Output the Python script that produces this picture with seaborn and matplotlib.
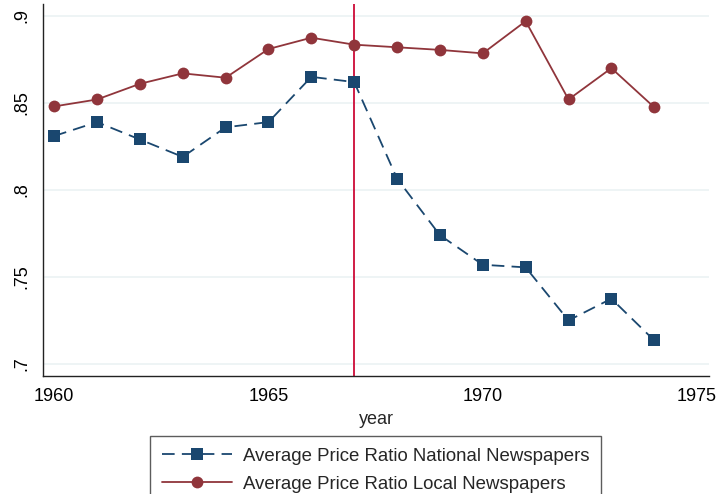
import numpy as np
import pandas as pd
import matplotlib
matplotlib.use("Agg")
import matplotlib.pyplot as plt
import seaborn as sns
from matplotlib.ticker import FuncFormatter

# chart data
years = list(range(1960, 1975))
national = [0.831, 0.839, 0.829, 0.819, 0.836, 0.839, 0.865, 0.862,
            0.8065, 0.774, 0.757, 0.7555, 0.725, 0.7375, 0.7135]
local = [0.848, 0.852, 0.861, 0.867, 0.8645, 0.881, 0.8875, 0.8835,
         0.882, 0.8805, 0.8785, 0.897, 0.852, 0.870, 0.8475]
labels = ["Average Price Ratio National Newspapers",
          "Average Price Ratio Local Newspapers"]
event_year = 1967

NAVY = "#1a476f"
MAROON = "#90353b"
CRIMSON = "#d01c45"
GRID = "#eaf1f3"

sns.set_style("white")
plt.rcParams["font.family"] = ["Liberation Sans", "DejaVu Sans"]

fig = plt.figure(figsize=(7.17, 4.94), dpi=100)
ax = fig.add_axes([0.060, 0.239, 0.929, 0.753])

df = pd.DataFrame({"year": years, "national": national, "local": local})

sns.lineplot(data=df, x="year", y="national", ax=ax, color=NAVY, lw=1.3,
             marker="s", markersize=8, markeredgewidth=0,
             linestyle=(0, (7, 4)), label=labels[0])
sns.lineplot(data=df, x="year", y="local", ax=ax, color=MAROON, lw=1.3,
             marker="o", markersize=8.5, markeredgewidth=0,
             label=labels[1])

ax.axvline(event_year, color=CRIMSON, lw=1.4, zorder=1)

ax.set_xlim(1959.74, 1975.28)
ax.set_ylim(0.6931, 0.9069)
ax.set_xticks([1960, 1965, 1970, 1975])
ax.set_yticks([0.7, 0.75, 0.8, 0.85, 0.9])
ax.yaxis.set_major_formatter(FuncFormatter(lambda v, p: f"{v:g}".lstrip("0")))
ax.yaxis.grid(True, color=GRID, lw=1.1, zorder=0)
ax.set_axisbelow(True)

for s in ["top", "right"]:
    ax.spines[s].set_visible(False)
for s in ["left", "bottom"]:
    ax.spines[s].set_color("#222222")
    ax.spines[s].set_linewidth(1.0)

ax.tick_params(axis="both", direction="out", length=5, width=1,
               color="#222222", labelsize=13, labelcolor="black")
plt.setp(ax.get_yticklabels(), rotation=90, va="center")
ax.tick_params(axis="y", pad=4)
ax.tick_params(axis="x", pad=4)

ax.set_xlabel("year", fontsize=13, labelpad=4)
ax.set_ylabel("")

handles, labs = ax.get_legend_handles_labels()
ax.get_legend().remove()
leg = fig.legend(handles, labs, loc="upper center",
                 bbox_to_anchor=(375.5 / 717, 1 - 436 / 494), fontsize=13.4,
                 frameon=True, fancybox=False, handlelength=3.76,
                 handletextpad=0.6, borderpad=0.62, labelspacing=0.6,
                 borderaxespad=0)
leg.get_frame().set_edgecolor("#333333")
leg.get_frame().set_linewidth(1.0)

fig.savefig("out.png", dpi=100)
